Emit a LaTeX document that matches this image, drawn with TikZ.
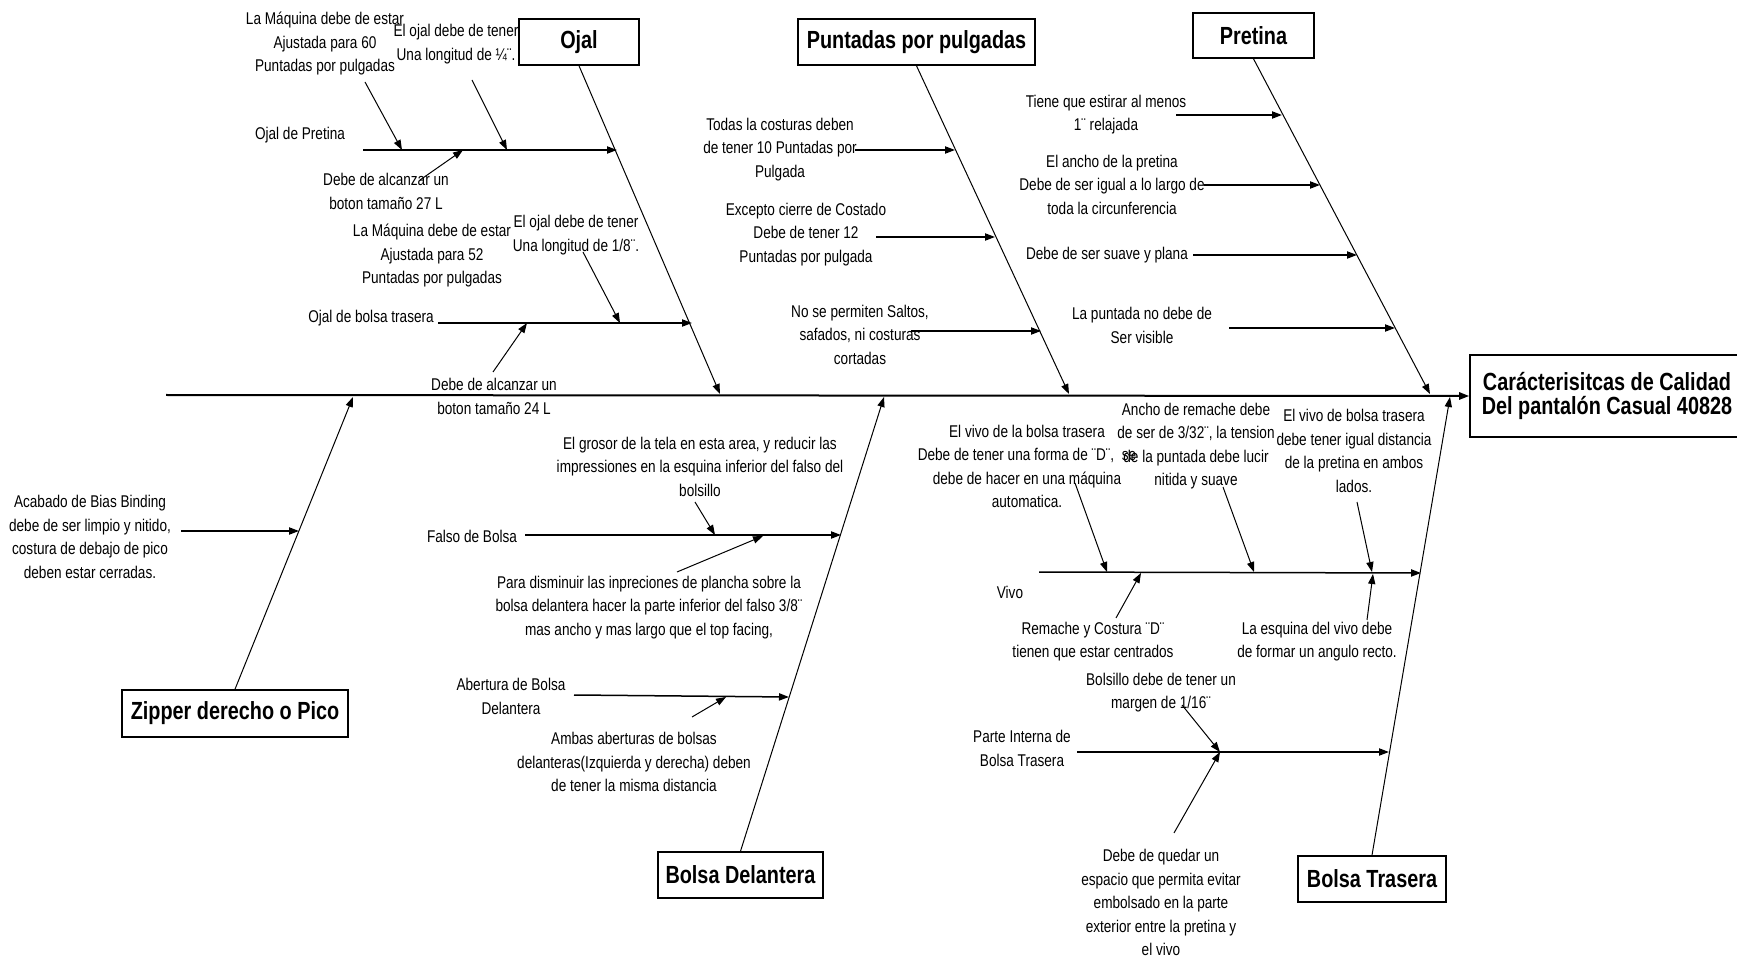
\documentclass[tikz,border=0pt]{standalone}
\usepackage{fontspec}
\setmainfont{Liberation Sans}[FakeStretch=0.8]
\usetikzlibrary{arrows.meta}
\begin{document}
\begin{tikzpicture}[x=0.5pt,y=-0.5pt,
  txt/.style={font=\fontsize{8.5}{11.75}\selectfont, align=center, inner sep=0pt},
  ttl/.style={draw, line width=0.8pt, font=\fontsize{12.4}{12}\selectfont\bfseries, align=center, inner sep=0pt},
  bone/.style={line width=0.5pt, -{Triangle[length=5pt,width=3.6pt]}},
  sub/.style={line width=0.75pt, -{Triangle[length=5pt,width=3.6pt]}},
  pt/.style={line width=0.5pt, -{Triangle[length=5pt,width=3.6pt]}},
]
\useasboundingbox (0,0) rectangle (1737,957);

% category boxes
\node[ttl, minimum width=60pt, minimum height=23pt] (ojal) at (579,42) {Ojal};
\node[ttl, minimum width=118.5pt, minimum height=23pt] (punt) at (916.5,42) {Puntadas por pulgadas};
\node[ttl, minimum width=60.5pt, minimum height=22.5pt] (pret) at (1253.5,35.5) {Pretina};
\node[ttl, minimum width=137pt, minimum height=41pt] (head) at (1607,396) {Carácterisitcas de Calidad\\Del pantalón Casual 40828};
\node[ttl, minimum width=113pt, minimum height=23.5pt] (zip) at (235,713.5) {Zipper derecho o Pico};
\node[ttl, minimum width=82.5pt, minimum height=23pt] (bdel) at (740.5,875) {Bolsa Delantera};
\node[ttl, minimum width=74pt, minimum height=23pt] (btra) at (1372,879) {Bolsa Trasera};

% spine and bones
\coordinate (s0) at (166,395);
\draw[line width=1pt, -{Triangle[length=5pt,width=3.6pt]}] (s0) -- (head.west);
\coordinate (ojE) at (720,394);
\coordinate (puE) at (1069,394);
\coordinate (prE) at (1430,394);
\coordinate (ziE) at (353,397);
\coordinate (bdE) at (884,397);
\coordinate (btE) at (1450,397);
\draw[bone] (ojal.south) -- (ojE);
\draw[bone] (punt.south) -- (puE);
\draw[bone] (pret.south) -- (prE);
\draw[bone] (zip.north) -- (ziE);
\draw[bone] (bdel.north) -- (bdE);
\draw[bone] (btra.north) -- (btE);

% ---- Ojal
\node[txt] (o1) at (325,44) {La Máquina debe de estar\\Ajustada para 60\\Puntadas por pulgadas};
\node[txt] (o2) at (456,44) {El ojal debe de tener\\Una longitud de ¼¨.};
\node[txt] (o3) at (300,135) {Ojal de Pretina};
\node[txt] (o4) at (386,191.5) {Debe de alcanzar un\\boton tamaño 27 L};
\coordinate (o3a) at (363,150); \coordinate (o3b) at (617,150);
\draw[sub] (o3a) -- (o3b);
\coordinate (o1a) at (365,82); \coordinate (o1b) at (402,150);
\draw[pt] (o1a) -- (o1b);
\coordinate (o2a) at (472,80); \coordinate (o2b) at (507,150);
\draw[pt] (o2a) -- (o2b);
\coordinate (o4a) at (420,180); \coordinate (o4b) at (463,150);
\draw[pt] (o4a) -- (o4b);

\node[txt] (o5) at (432,256) {La Máquina debe de estar\\Ajustada para 52\\Puntadas por pulgadas};
\node[txt] (o6) at (576,235) {El ojal debe de tener\\Una longitud de 1/8¨.};
\node[txt] (o7) at (371,318) {Ojal de bolsa trasera};
\node[txt] (o8) at (494,396.5) {Debe de alcanzar un\\boton tamaño 24 L};
\coordinate (o7a) at (438,323); \coordinate (o7b) at (692,323);
\draw[sub] (o7a) -- (o7b);
\coordinate (o6a) at (583,252); \coordinate (o6b) at (620,323);
\draw[pt] (o6a) -- (o6b);
\coordinate (o8a) at (493,372); \coordinate (o8b) at (527,323);
\draw[pt] (o8a) -- (o8b);

% ---- Puntadas
\node[txt] (p1) at (780,149.5) {Todas la costuras deben\\de tener 10 Puntadas por\\Pulgada};
\coordinate (p1a) at (855,150); \coordinate (p1b) at (955,150);
\draw[sub] (p1a) -- (p1b);
\node[txt] (p2) at (806,234.5) {Excepto cierre de Costado\\Debe de tener 12\\Puntadas por pulgada};
\coordinate (p2a) at (876,237); \coordinate (p2b) at (995,237);
\draw[sub] (p2a) -- (p2b);
\node[txt] (p3) at (860,334.5) {No se permiten Saltos,\\safados, ni costuras\\cortadas};
\coordinate (p3a) at (911,331); \coordinate (p3b) at (1041,331);
\draw[sub] (p3a) -- (p3b);

% ---- Pretina
\node[txt] (r1) at (1106,114.5) {Tiene que estirar al menos\\1¨ relajada};
\coordinate (r1a) at (1176,115); \coordinate (r1b) at (1282,115);
\draw[sub] (r1a) -- (r1b);
\node[txt] (r2) at (1112,184.5) {El ancho de la pretina\\Debe de ser igual a lo largo de\\toda la circunferencia};
\coordinate (r2a) at (1204,185); \coordinate (r2b) at (1320,185);
\draw[sub] (r2a) -- (r2b);
\node[txt] (r3) at (1107,255) {Debe de ser suave y plana};
\coordinate (r3a) at (1193,255); \coordinate (r3b) at (1357,255);
\draw[sub] (r3a) -- (r3b);
\node[txt] (r4) at (1142,325.5) {La puntada no debe de\\Ser visible};
\coordinate (r4a) at (1229,328); \coordinate (r4b) at (1395,328);
\draw[sub] (r4a) -- (r4b);

% ---- Zipper
\node[txt] (z1) at (90,537) {Acabado de Bias Binding\\debe de ser limpio y nitido,\\costura de debajo de pico\\deben estar cerradas.};
\coordinate (z1a) at (181,531); \coordinate (z1b) at (299,531);
\draw[sub] (z1a) -- (z1b);

% ---- Bolsa Delantera
\node[txt] (d1) at (700,466.5) {El grosor de la tela en esta area, y reducir las\\impressiones en la esquina inferior del falso del\\bolsillo};
\node[txt] (d2) at (472,536) {Falso de Bolsa};
\coordinate (d2a) at (525,535); \coordinate (d2b) at (841,535);
\draw[sub] (d2a) -- (d2b);
\coordinate (d1a) at (695,502); \coordinate (d1b) at (715,535);
\draw[pt] (d1a) -- (d1b);
\coordinate (d3a) at (677,572); \coordinate (d3b) at (763,536);
\draw[pt] (d3a) -- (d3b);
\node[txt] (d3) at (649,607.5) {Para disminuir las inpreciones de plancha sobre la\\bolsa delantera hacer la parte inferior del falso 3/8¨\\mas ancho y mas largo que el top facing,};
\node[txt] (d4) at (511,696.5) {Abertura de Bolsa\\Delantera};
\coordinate (d4a) at (574,695); \coordinate (d4b) at (789,697);
\draw[sub] (d4a) -- (d4b);
\coordinate (d5a) at (692,717); \coordinate (d5b) at (726,697);
\draw[pt] (d5a) -- (d5b);
\node[txt] (d5) at (634,762) {Ambas aberturas de bolsas\\delanteras(Izquierda y derecha) deben\\de tener la misma distancia};

% ---- Bolsa Trasera
\node[txt] (b1) at (1027,466.5) {El vivo de la bolsa trasera\\Debe de tener una forma de ¨D¨,\ \ se\\debe de hacer en una máquina\\automatica.};
\node[txt] (b2) at (1196,446) {Ancho de remache debe\\de ser de 3/32¨, la tension\\de la puntada debe lucir\\nitida y suave};
\node[txt] (b3) at (1354,451) {El vivo de bolsa trasera\\debe tener igual distancia\\de la pretina en ambos\\lados.};
\node[txt] (b4) at (1010,592) {Vivo};
\coordinate (b4a) at (1039,572); \coordinate (b4b) at (1421,573);
\draw[sub] (b4a) -- (b4b);
\coordinate (b1a) at (1075,483); \coordinate (b1b) at (1107,572);
\draw[pt] (b1a) -- (b1b);
\coordinate (b2a) at (1223,487); \coordinate (b2b) at (1254,572);
\draw[pt] (b2a) -- (b2b);
\coordinate (b3a) at (1357,502); \coordinate (b3b) at (1372,572);
\draw[pt] (b3a) -- (b3b);
\coordinate (b5a) at (1116,618); \coordinate (b5b) at (1141,573);
\draw[pt] (b5a) -- (b5b);
\coordinate (b6a) at (1367,620); \coordinate (b6b) at (1373,574);
\draw[pt] (b6a) -- (b6b);
\node[txt] (b5) at (1093,641.5) {Remache y Costura ¨D¨\\tienen que estar centrados};
\node[txt] (b6) at (1317,641.5) {La esquina del vivo debe\\de formar un angulo recto.};
\node[txt] (b7) at (1161,692.5) {Bolsillo debe de tener un\\margen de 1/16¨};
\node[txt] (b8) at (1022,748.5) {Parte Interna de\\Bolsa Trasera};
\coordinate (b8a) at (1077,752); \coordinate (b8b) at (1389,752);
\draw[sub] (b8a) -- (b8b);
\coordinate (b7a) at (1182,705); \coordinate (b7b) at (1220,752);
\draw[pt] (b7a) -- (b7b);
\coordinate (b9a) at (1174,833); \coordinate (b9b) at (1220,752);
\draw[pt] (b9a) -- (b9b);
\node[txt] (b9) at (1161,902.5) {Debe de quedar un\\espacio que permita evitar\\embolsado en la parte\\exterior entre la pretina y\\el vivo};
\end{tikzpicture}
\end{document}
